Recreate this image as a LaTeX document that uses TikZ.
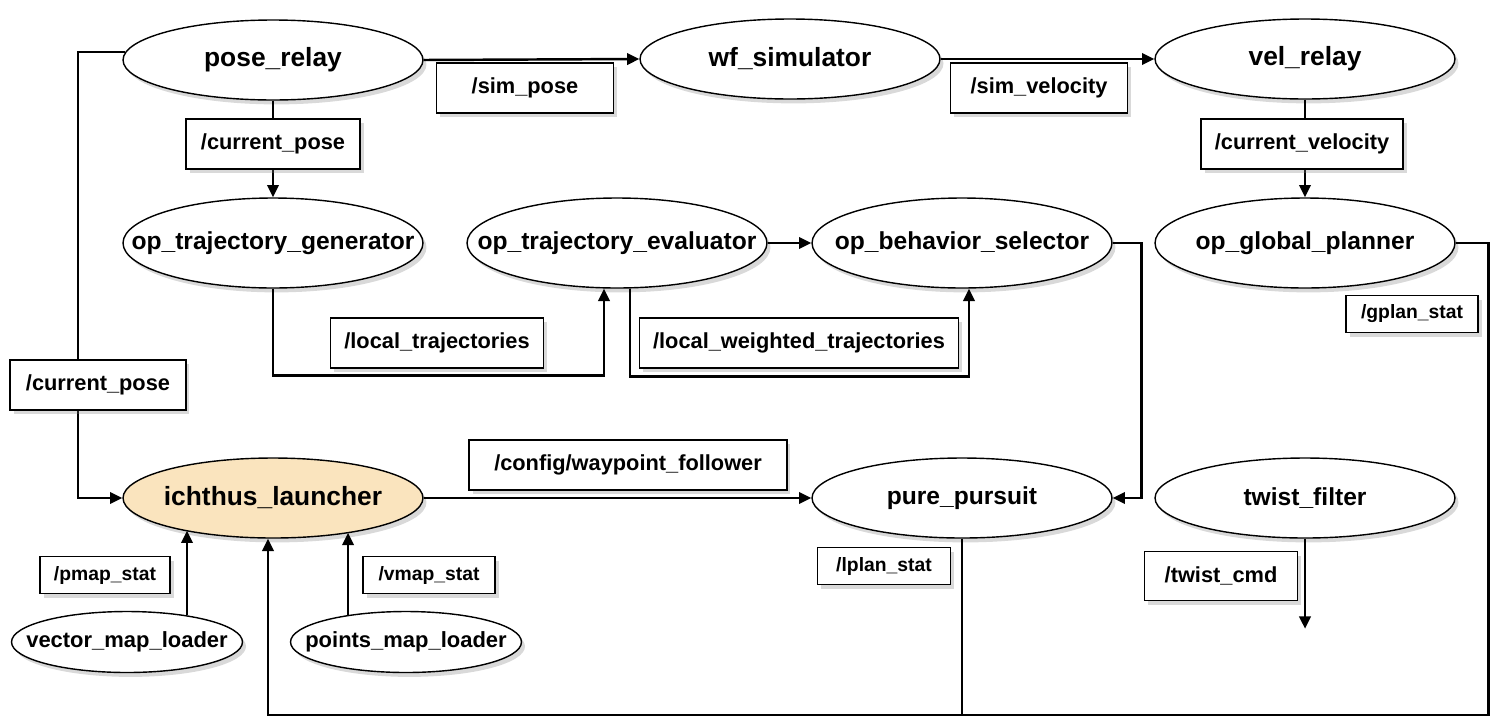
\documentclass[tikz,border=0pt]{standalone}
\usepackage{fontspec}
\setmainfont{Liberation Sans}
\usetikzlibrary{shapes.geometric,shadows,arrows.meta}
\definecolor{launcherfill}{RGB}{250,228,190}
\newcommand{\nodename}[1]{\makebox[0pt]{#1}}
\tikzset{
	rosnode/.style={ellipse, draw, line width=0.8pt, fill=white, inner sep=0pt,
		minimum width=6cm, minimum height=1.6cm,
		font=\fontsize{15}{17}\selectfont\bfseries,
		drop shadow={opacity=0.3, shadow xshift=2pt, shadow yshift=-2.5pt}},
	opnode/.style={rosnode, minimum height=1.8cm, font=\fontsize{14}{16}\selectfont\bfseries},
	loadernode/.style={rosnode, minimum width=4.62cm, minimum height=1.22cm, font=\fontsize{12.5}{14}\selectfont\bfseries},
	topic/.style={rectangle, draw, line width=1pt, fill=white, inner sep=0pt,
		minimum height=1cm, font=\fontsize{12.4}{14}\selectfont\bfseries,
		drop shadow={opacity=0.3, shadow xshift=2pt, shadow yshift=-2.5pt}},
	smalltopic/.style={topic, minimum height=0.74cm, font=\fontsize{11}{13}\selectfont\bfseries},
	flow/.style={line width=1.4pt, -{Triangle[length=7pt,width=6.5pt]}},
	wire/.style={line width=1.4pt}
}
\begin{document}
\begin{tikzpicture}[x=0.02cm, y=-0.02cm]
	\useasboundingbox (0,0) rectangle (1496,724);
	
	% nodes
	\node[rosnode] (poserelay) at (273,60) {\nodename{pose\_relay}};
	\node[rosnode] (wfsim)     at (790,59) {\nodename{wf\_simulator}};
	\node[rosnode] (velrelay)  at (1305,59) {\nodename{vel\_relay}};
	\node[opnode] (trajgen)    at (273,243) {\nodename{op\_trajectory\_generator}};
	\node[opnode] (trajeval)   at (617,243) {\nodename{op\_trajectory\_evaluator}};
	\node[opnode] (behsel)     at (962,243) {\nodename{op\_behavior\_selector}};
	\node[opnode] (gplanner)   at (1305,243) {\nodename{op\_global\_planner}};
	\node[rosnode, fill=launcherfill] (launcher) at (273,498) {\nodename{ichthus\_launcher}};
	\node[rosnode, font=\fontsize{14}{16}\selectfont\bfseries] (pursuit) at (962,498) {\nodename{pure\_pursuit}};
	\node[rosnode, font=\fontsize{14}{16}\selectfont\bfseries] (twist)   at (1305,498) {\nodename{twist\_filter}};
	\node[loadernode] (vecmap) at (127,642) {\nodename{vector\_map\_loader}};
	\node[loadernode] (ptsmap) at (406,642) {\nodename{points\_map\_loader}};
	
	% connectors
	\draw[flow] (poserelay.177) -- ++(-47,0) |- (launcher.west);
	\draw[flow] (poserelay.east) -- (wfsim.west);
	\draw[flow] (wfsim.east) -- (velrelay.west);
	\draw[flow] (poserelay.south) -- (trajgen.north);
	\draw[flow] (velrelay.south) -- (gplanner.north);
	\draw[flow] (trajgen.south) -- ++(0,87) -| ([xshift=-0.26cm]trajeval.south);
	\draw[flow] ([xshift=0.26cm]trajeval.south) -- ++(0,88) -| ([xshift=0.14cm]behsel.south);
	\draw[flow] (trajeval.east) -- (behsel.west);
	\draw[flow] (behsel.east) -- ++(29,0) |- (pursuit.east);
	\draw[flow] (gplanner.east) -- ++(33,0) -- ++(0,472) -| ([xshift=-0.1cm]launcher.south);
	\draw[wire] (pursuit.south) -- ++(0,177);
	\draw[flow] (launcher.east) -- (pursuit.west);
	\draw[flow] (twist.south) -- ++(0,90);
	\draw[flow] (vecmap.24) -- (vecmap.24 |- launcher.200);
	\draw[flow] (ptsmap.155) -- (ptsmap.155 |- launcher.336);
	
	% topics
	\node[topic, minimum width=3.54cm] (simpose) at (525,88) {/sim\_pose};
	\node[topic, minimum width=3.54cm] (simvel) at (1039,88) {/sim\_velocity};
	\node[topic, minimum width=3.48cm] (curpose) at (273,144) {/current\_pose};
	\node[topic, minimum width=4.04cm] (curvel) at (1302,144) {/current\_velocity};
	\node[topic, minimum width=4.26cm] (localtraj) at (437,343) {/local\_trajectories};
	\node[topic, minimum width=6.38cm] (weightraj) at (799,343) {/local\_weighted\_trajectories};
	\node[topic, minimum width=3.52cm] (curposeleft) at (98,385) {/current\_pose};
	\node[topic, minimum width=6.36cm] (waypoint) at (628,465) {/config/waypoint\_follower};
	\node[topic, minimum width=3.06cm, minimum height=0.98cm] (twistcmd) at (1221,576) {/twist\_cmd};
	\node[smalltopic, minimum width=2.64cm] (gplanstat) at (1412,314) {/gplan\_stat};
	\node[smalltopic, minimum width=2.66cm] (lplanstat) at (884,566) {/lplan\_stat};
	\node[smalltopic, minimum width=2.6cm] (pmapstat) at (105,575) {/pmap\_stat};
	\node[smalltopic, minimum width=2.64cm] (vmapstat) at (429,575) {/vmap\_stat};
\end{tikzpicture}
\end{document}
